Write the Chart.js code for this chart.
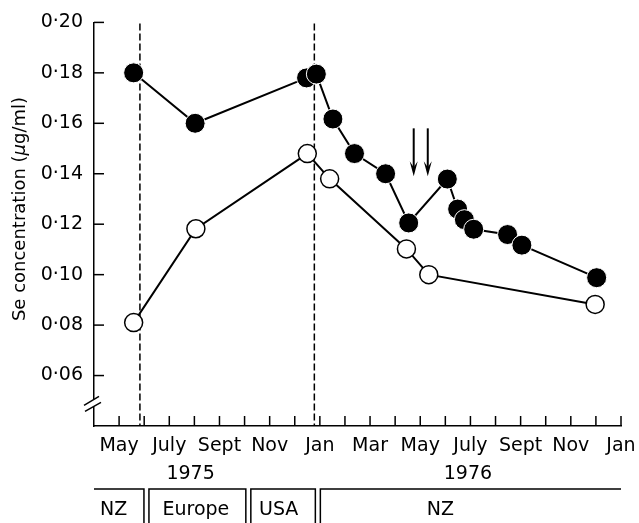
<!DOCTYPE html>
<html>
<head>
<meta charset="utf-8">
<script src="https://cdn.jsdelivr.net/npm/chart.js@4.4.0/dist/chart.umd.min.js"></script>
<style>
  html, body { margin: 0; padding: 0; background: #fff; }
</style>
</head>
<body>
<canvas id="grafico" width="639" height="523"></canvas>
<script>
// eixo x em meses, jan/1975 = 0
const filledX = [4.58, 7.03, 11.47, 11.86, 12.52, 13.38, 14.62, 15.54, 17.08, 17.49, 17.76, 18.13, 19.48, 20.05, 23.03];
const filledY = [0.180, 0.160, 0.178, 0.1795, 0.1617, 0.148, 0.140, 0.1205, 0.1379, 0.126, 0.1218, 0.118, 0.1159, 0.1117, 0.0988];
const openX = [4.58, 7.06, 11.5, 12.39, 15.45, 16.34, 22.97];
const openY = [0.081, 0.1182, 0.148, 0.138, 0.1102, 0.100, 0.0882];

const monthTicks = [4, 6, 8, 10, 12, 14, 16, 18, 20, 22, 24];
const monthNames = ['May', 'July', 'Sept', 'Nov', 'Jan', 'Mar', 'May', 'July', 'Sept', 'Nov', 'Jan'];
const years = ['1975', '1976'];
const yearAt = [6.85, 17.9];

const travelDates = [4.83, 11.78];      // linhas tracejadas
const arrowDates = [15.74, 16.3];       // setas
const arrowFrom = 0.158, arrowTo = 0.139;
const places = ['NZ', 'Europe', 'USA', 'NZ'];
const placeBounds = [5.09, 9.15, 11.92];
const placeLabelAt = [3.78, 7.06, 10.36, 16.8];
const breakAt = 0.049;

const FONT = '"DejaVu Sans", sans-serif';

function pts(xs, ys) {
  return xs.map((x, i) => ({ x: x, y: ys[i] }));
}

const extras = {
  id: 'extras',
  beforeDatasetsDraw(chart) {
    const ctx = chart.ctx;
    const x = chart.scales.x, y = chart.scales.y;
    const area = chart.chartArea;
    ctx.save();
    ctx.strokeStyle = '#000';
    ctx.lineWidth = 1.5;
    ctx.setLineDash([7, 3]);
    travelDates.forEach(d => {
      const px = x.getPixelForValue(d);
      ctx.beginPath();
      ctx.moveTo(px, area.top + 1);
      ctx.lineTo(px, area.bottom);
      ctx.stroke();
    });
    ctx.restore();
  },
  afterDraw(chart) {
    const ctx = chart.ctx;
    const x = chart.scales.x, y = chart.scales.y;
    const area = chart.chartArea;
    ctx.save();
    ctx.strokeStyle = '#000';
    ctx.fillStyle = '#000';
    ctx.lineWidth = 1.5;

    // ticks para dentro
    x.ticks.forEach(t => {
      if (t.value < 4) return;
      const px = x.getPixelForValue(t.value);
      ctx.beginPath();
      ctx.moveTo(px, area.bottom);
      ctx.lineTo(px, area.bottom - 10);
      ctx.stroke();
    });
    y.ticks.forEach(t => {
      if (t.value < 0.05) return;
      const py = y.getPixelForValue(t.value);
      ctx.beginPath();
      ctx.moveTo(area.left, py);
      ctx.lineTo(area.left + 10, py);
      ctx.stroke();
    });

    // quebra do eixo
    const pb = y.getPixelForValue(breakAt);
    ctx.fillStyle = '#fff';
    ctx.fillRect(area.left - 2, pb - 4, 4, 7);
    ctx.fillStyle = '#000';
    ctx.beginPath();
    ctx.moveTo(area.left - 10, pb + 2);
    ctx.lineTo(area.left + 5, pb - 7);
    ctx.moveTo(area.left - 9, pb + 8);
    ctx.lineTo(area.left + 7, pb - 1);
    ctx.stroke();

    // setas
    arrowDates.forEach(d => {
      const px = x.getPixelForValue(d);
      const top = y.getPixelForValue(arrowFrom);
      const tip = y.getPixelForValue(arrowTo);
      ctx.lineWidth = 2;
      ctx.beginPath();
      ctx.moveTo(px, top);
      ctx.lineTo(px, tip - 6);
      ctx.stroke();
      ctx.beginPath();
      ctx.moveTo(px - 4, tip - 15);
      ctx.lineTo(px, tip - 9);
      ctx.lineTo(px + 4, tip - 15);
      ctx.lineTo(px, tip);
      ctx.closePath();
      ctx.fill();
    });

    // rótulos dos meses e anos
    ctx.font = '19px ' + FONT;
    ctx.textAlign = 'center';
    ctx.textBaseline = 'alphabetic';
    monthTicks.forEach((m, i) => {
      ctx.fillText(monthNames[i], x.getPixelForValue(m), area.bottom + 25);
    });
    years.forEach((s, i) => {
      ctx.fillText(s, x.getPixelForValue(yearAt[i]), area.bottom + 53);
    });

    // faixa de locais
    const bandTop = area.bottom + 63;
    const bottom = chart.height;
    const edges = [area.left];
    placeBounds.forEach(b => edges.push(x.getPixelForValue(b)));
    edges.push(area.right);
    ctx.lineWidth = 1.5;
    for (let i = 0; i < places.length; i++) {
      const l = i === 0 ? edges[i] : edges[i] + 2.5;
      const r = i === places.length - 1 ? edges[i + 1] : edges[i + 1] - 2.5;
      ctx.beginPath();
      if (i > 0) { ctx.moveTo(l, bottom); ctx.lineTo(l, bandTop); } else { ctx.moveTo(l, bandTop); }
      ctx.lineTo(r, bandTop);
      if (i < places.length - 1) ctx.lineTo(r, bottom);
      ctx.stroke();
      ctx.fillText(places[i], x.getPixelForValue(placeLabelAt[i]), bandTop + 26);
    }

    // título do eixo y
    ctx.save();
    ctx.translate(20, 209);
    ctx.rotate(-Math.PI / 2);
    ctx.textAlign = 'left';
    ctx.textBaseline = 'middle';
    const partes = [['Se concentration (', ''], ['\u03bc', 'italic '], ['g/ml)', '']];
    let total = 0;
    partes.forEach(p => { ctx.font = p[1] + '18px ' + FONT; total += ctx.measureText(p[0]).width; });
    let cx = -total / 2;
    partes.forEach(p => {
      ctx.font = p[1] + '18px ' + FONT;
      ctx.fillText(p[0], cx, 0);
      cx += ctx.measureText(p[0]).width;
    });
    ctx.restore();

    ctx.restore();
  }
};

new Chart(document.getElementById('grafico'), {
  type: 'line',
  data: {
    datasets: [
      {
        label: 'filled',
        data: pts(filledX, filledY),
        borderColor: '#000',
        borderWidth: 2,
        pointRadius: 10,
        pointBackgroundColor: '#000',
        pointBorderColor: '#fff',
        pointBorderWidth: 1,
        tension: 0,
        clip: false
      },
      {
        label: 'open',
        data: pts(openX, openY),
        borderColor: '#000',
        borderWidth: 2,
        pointRadius: 9,
        pointBackgroundColor: '#fff',
        pointBorderColor: '#000',
        pointBorderWidth: 1.5,
        tension: 0,
        clip: false
      }
    ]
  },
  options: {
    responsive: false,
    animation: false,
    layout: { padding: { top: 22, right: 18, bottom: 0, left: 0 } },
    scales: {
      x: {
        type: 'linear',
        min: 3,
        max: 24,
        grid: { display: false, drawTicks: false },
        border: { display: true, color: '#000', width: 1.5 },
        ticks: { stepSize: 1, display: false },
        afterFit(scale) { scale.height = 97; }
      },
      y: {
        min: 0.04,
        max: 0.20,
        grid: { display: false, drawTicks: false },
        border: { display: true, color: '#000', width: 1.5 },
        ticks: {
          stepSize: 0.02,
          padding: 11,
          color: '#000',
          font: { family: FONT, size: 19 },
          callback: v => v < 0.05 ? '' : v.toFixed(2).replace('.', '\u00b7')
        },
        afterFit(scale) { scale.width = 94; }
      }
    },
    plugins: {
      legend: { display: false },
      tooltip: { enabled: false }
    }
  },
  plugins: [extras]
});
</script>
</body>
</html>
